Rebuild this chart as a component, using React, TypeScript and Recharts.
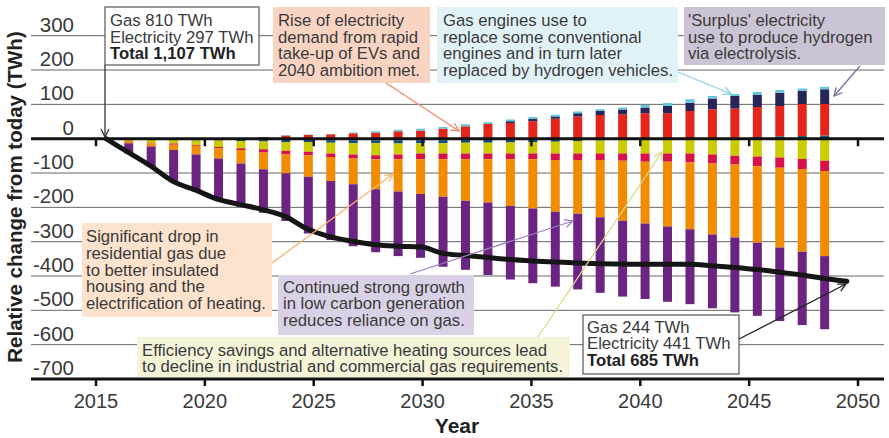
import React from 'react';
import { ComposedChart, Bar, Line, XAxis, YAxis, CartesianGrid, ReferenceLine } from 'recharts';

// Years of the net-change line (34 points) and of the stacked bars (32 bars)
const lineYears = [2016, 2017, 2018, 2019, 2020, 2021, 2022, 2023, 2024, 2025, 2026, 2027, 2028, 2029, 2030, 2031, 2032, 2033, 2034, 2035, 2036, 2037, 2038, 2039, 2040, 2041, 2042, 2043, 2044, 2045, 2046, 2047, 2048, 2049];
const barYears = [2017, 2018, 2019, 2020, 2021, 2022, 2023, 2024, 2025, 2026, 2027, 2028, 2029, 2030, 2031, 2032, 2033, 2034, 2035, 2036, 2037, 2038, 2039, 2040, 2041, 2042, 2043, 2044, 2045, 2046, 2047, 2048];

// Net relative change from today (TWh)
const netChange = [0, -40, -80, -125, -150, -177, -192, -207, -227, -264, -286, -299, -309, -313, -315, -334, -340, -346, -352, -356, -359, -362, -364, -365, -366, -366, -366, -370, -375, -381, -389, -397, -407, -415];

// Positive components (TWh)
const posTeal = [0, 0, 2, 2, 2, 2, 0, 0, 0, 0, 0, 0, 0, 0, 0, 0, 0, 0, 0, 0, 0, 0, 0, 0, 0, 0, 2, 3, 5, 7, 8, 9];
const posRed = [0, 0, 0, 0, 0, 0, 4, 9, 11, 13, 16, 18, 22, 24, 29, 36, 43, 46, 51, 58, 65, 69, 71, 74, 74, 81, 84, 85, 87, 88, 93, 92];
const posNavy = [0, 0, 0, 0, 0, 0, 1, 0, 0, 0, 0, 0, 0, 0, 0, 0, 0, 5, 7, 7, 9, 12, 14, 17, 21, 24, 31, 36, 35, 39, 39, 43];
const posCyan = [0, 0, 0, 0, 0, 0, 0, 1, 1, 1, 2, 4, 4, 5, 5, 6, 5, 5, 5, 5, 5, 5, 6, 7, 9, 10, 7, 6, 9, 8, 6, 7];

// Negative components (TWh)
const negNavy = [0, -1, -1, -2, -2, -3, -3, -4, -4, -5, -5, -5, -5, -5, -5, -4, -4, -4, -3, -3, -2, -2, -1, 0, 0, 0, 0, 0, 0, 0, 0, 0];
const negBlue = [0, 0, -2, -3, -3, -4, -5, -6, -6, -7, -8, -8, -9, -8, -8, -8, -8, -7, -7, -6, -5, -3, -2, -1, 0, 0, 0, 0, 0, 0, 0, 0];
const negYellow = [-5, -11, -11, -14, -19, -21, -23, -25, -28, -31, -33, -35, -32, -30, -30, -31, -31, -32, -33, -34, -36, -38, -40, -42, -43, -43, -46, -50, -52, -55, -59, -64];
const negCrimson = [-1, -1, -4, -2, -4, -5, -9, -11, -10, -10, -12, -12, -14, -17, -17, -17, -17, -17, -17, -19, -19, -19, -21, -24, -24, -26, -26, -25, -28, -30, -29, -30];
const negOrange = [-7, -10, -15, -25, -30, -39, -49, -55, -63, -70, -75, -87, -94, -101, -109, -121, -126, -136, -143, -151, -157, -167, -175, -180, -189, -195, -207, -213, -223, -232, -241, -248];
const negPurple = [-30, -59, -92, -108, -121, -126, -127, -139, -165, -172, -180, -184, -188, -186, -204, -201, -211, -214, -218, -218, -220, -220, -221, -220, -219, -218, -215, -218, -213, -214, -214, -213];

const yTicks = [-700, -600, -500, -400, -300, -200, -100, 0, 100, 200, 300];
const xTicks = [2015, 2020, 2025, 2030, 2035, 2040, 2045, 2050];

const data = lineYears.map((year, k) => {
  const row: any = { year, net: netChange[k] };
  const b = barYears.indexOf(year);
  if (b >= 0) {
    row.posTeal = posTeal[b];
    row.posRed = posRed[b];
    row.posNavy = posNavy[b];
    row.posCyan = posCyan[b];
    row.negNavy = negNavy[b];
    row.negBlue = negBlue[b];
    row.negYellow = negYellow[b];
    row.negCrimson = negCrimson[b];
    row.negOrange = negOrange[b];
    row.negPurple = negPurple[b];
  }
  return row;
});

const FONT = '"Liberation Sans", Arial, Helvetica, sans-serif';
const TXT = '#3a3a3a';

const series = [
  { key: 'posTeal', color: '#155e72' },
  { key: 'posRed', color: '#e3251b' },
  { key: 'posNavy', color: '#272458' },
  { key: 'posCyan', color: '#62c6dc' },
  { key: 'negNavy', color: '#2a2d5c' },
  { key: 'negBlue', color: '#0f4d7a' },
  { key: 'negYellow', color: '#cccb00' },
  { key: 'negCrimson', color: '#d51349' },
  { key: 'negOrange', color: '#f18b00' },
  { key: 'negPurple', color: '#6b2481' },
];

const YTick = (props: any) => {
  const { y, payload } = props;
  return (
    <text x={74} y={y - 4} textAnchor="end" fontSize={20.5} fill={TXT} fontFamily={FONT}>
      {String(payload.value)}
    </text>
  );
};

const XTick = (props: any) => {
  const { x, payload } = props;
  return (
    <text x={x} y={408} textAnchor="middle" fontSize={20} fill={TXT} fontFamily={FONT}>
      {String(payload.value)}
    </text>
  );
};

type BoxProps = {
  x: number; y: number; w: number; h: number; fill: string; stroke?: string;
  tx: number; ty: number; lh: number; lines: { t: string; b?: boolean }[];
};

const Box = ({ x, y, w, h, fill, stroke, tx, ty, lh, lines }: BoxProps) => (
  <g>
    <rect x={x} y={y} width={w} height={h} fill={fill} stroke={stroke || 'none'} strokeWidth={stroke ? 1.2 : 0} />
    <text fontFamily={FONT} fontSize={16.7} fill={TXT}>
      {lines.map((l, i) => (
        <tspan key={i} x={tx} y={ty + i * lh} fontWeight={l.b ? 'bold' : 'normal'} fill={l.b ? '#222' : TXT}>
          {l.t}
        </tspan>
      ))}
    </text>
  </g>
);

const arrows = [
  { id: 'a1', c: '#333333', x1: 105, y1: 65, x2: 105, y2: 137 },
  { id: 'a2', c: '#f08a6a', x1: 386, y1: 83, x2: 459, y2: 131 },
  { id: 'a3', c: '#8ccfe0', x1: 678, y1: 72, x2: 731, y2: 94 },
  { id: 'a4', c: '#7e6f9e', x1: 860, y1: 66, x2: 834, y2: 96 },
  { id: 'a5', c: '#f7b56e', x1: 272, y1: 263, x2: 393, y2: 174 },
  { id: 'a6', c: '#9d80c4', x1: 410, y1: 274, x2: 573, y2: 221 },
  { id: 'a7', c: '#d9d98a', x1: 538, y1: 337, x2: 662, y2: 152 },
  { id: 'a8', c: '#222222', x1: 739, y1: 339, x2: 846, y2: 284 },
];

export default function App() {
  return (
    <div style={{ position: 'absolute', left: 0, top: 0, width: 889, height: 438, background: '#fff' }}>
      <ComposedChart
        width={889}
        height={438}
        data={data}
        stackOffset="sign"
        margin={{ top: 35.7, right: 5, left: 30, bottom: 0 }}
      >
        <CartesianGrid vertical={false} stroke="#666" strokeWidth={1} />
        <XAxis
          dataKey="year"
          type="number"
          domain={[2012.014, 2051.194]}
          allowDataOverflow
          ticks={xTicks}
          tick={<XTick />}
          height={59}
          axisLine={{ stroke: '#111', strokeWidth: 3 }}
          tickLine={{ stroke: '#111', strokeWidth: 2.5 }}
          tickSize={7}
          interval={0}
        />
        <XAxis
          xAxisId="data"
          dataKey="year"
          type="number"
          domain={[2012.659, 2050.655]}
          allowDataOverflow
          hide
        />
        <YAxis
          type="number"
          domain={[-700, 300]}
          allowDataOverflow
          ticks={yTicks}
          width={1}
          axisLine={false}
          tickLine={false}
          tick={<YTick />}
          interval={0}
        />
        {series.map((s) => (
          <Bar
            key={s.key}
            xAxisId="data"
            dataKey={s.key}
            stackId="s"
            fill={s.color}
            barSize={9}
            isAnimationActive={false}
          />
        ))}
        <ReferenceLine y={0} stroke="#111" strokeWidth={3} />
        {xTicks.map((t) => (
          <ReferenceLine
            key={t}
            segment={[{ x: t, y: 0 }, { x: t, y: -22 }]}
            stroke="#111"
            strokeWidth={2.5}
          />
        ))}
        <Line
          xAxisId="data"
          dataKey="net"
          type="monotone"
          stroke="#151515"
          strokeWidth={5}
          strokeLinecap="round"
          dot={false}
          activeDot={false}
          isAnimationActive={false}
        />
      </ComposedChart>
      <svg width={889} height={438} style={{ position: 'absolute', left: 0, top: 0, pointerEvents: 'none' }}>
        <defs>
          {arrows.map((a) => (
            <marker key={a.id} id={a.id} markerWidth={12} markerHeight={12} refX={9} refY={5} orient="auto" markerUnits="userSpaceOnUse">
              <path d="M1,1 L9,5 L1,9" fill="none" stroke={a.c} strokeWidth={1.3} />
            </marker>
          ))}
        </defs>
        <Box x={105} y={7} w={154} h={58} fill="#fff" stroke="#555" tx={110} ty={26} lh={16.7}
          lines={[{ t: 'Gas 810 TWh' }, { t: 'Electricity 297 TWh' }, { t: 'Total 1,107 TWh', b: true }]} />
        <Box x={273} y={7} w={157} h={76} fill="#f9d4c3" tx={278} ty={26} lh={16.7}
          lines={[{ t: 'Rise of electricity' }, { t: 'demand from rapid' }, { t: 'take-up of EVs and' }, { t: '2040 ambition met.' }]} />
        <Box x={437} y={7} w={241} h={76} fill="#e1f2f6" tx={443} ty={26} lh={16.7}
          lines={[{ t: 'Gas engines use to' }, { t: 'replace some conventional' }, { t: 'engines and in turn later' }, { t: 'replaced by hydrogen vehicles.' }]} />
        <Box x={684} y={7} w={201} h={58} fill="#ccc4d5" tx={688} ty={26} lh={16.7}
          lines={[{ t: "'Surplus' electricity" }, { t: 'use to produce hydrogen' }, { t: 'via electrolysis.' }]} />
        <Box x={82} y={223} w={190} h={94} fill="#fde3cd" tx={86} ty={241.7} lh={16.9}
          lines={[{ t: 'Significant drop in' }, { t: 'residential gas due' }, { t: 'to better insulated' }, { t: 'housing and the' }, { t: 'electrification of heating.' }]} />
        <Box x={278} y={275} w={196} h={60} fill="#dbd1e7" tx={283} ty={292.7} lh={16.7}
          lines={[{ t: 'Continued strong growth' }, { t: 'in low carbon generation' }, { t: 'reduces reliance on gas.' }]} />
        <Box x={137} y={337} w={433} h={40} fill="#f5f3d8" tx={142} ty={355.5} lh={16.7}
          lines={[{ t: 'Efficiency savings and alternative heating sources lead' }, { t: 'to decline in industrial and commercial gas requirements.' }]} />
        <Box x={583} y={315} w={156} h={59} fill="#fff" stroke="#555" tx={587} ty={332.7} lh={16.7}
          lines={[{ t: 'Gas 244 TWh' }, { t: 'Electricity 441 TWh' }, { t: 'Total 685 TWh', b: true }]} />
        {arrows.map((a) => (
          <line key={a.id} x1={a.x1} y1={a.y1} x2={a.x2} y2={a.y2} stroke={a.c} strokeWidth={1.3} markerEnd={`url(#${a.id})`} />
        ))}
        <text transform="translate(22,197) rotate(-90)" textAnchor="middle" fontFamily={FONT} fontWeight="bold" fontSize={20.5} fill="#222">
          Relative change from today (TWh)
        </text>
        <text x={457} y={433} textAnchor="middle" fontFamily={FONT} fontWeight="bold" fontSize={21} fill="#222">
          Year
        </text>
      </svg>
    </div>
  );
}
